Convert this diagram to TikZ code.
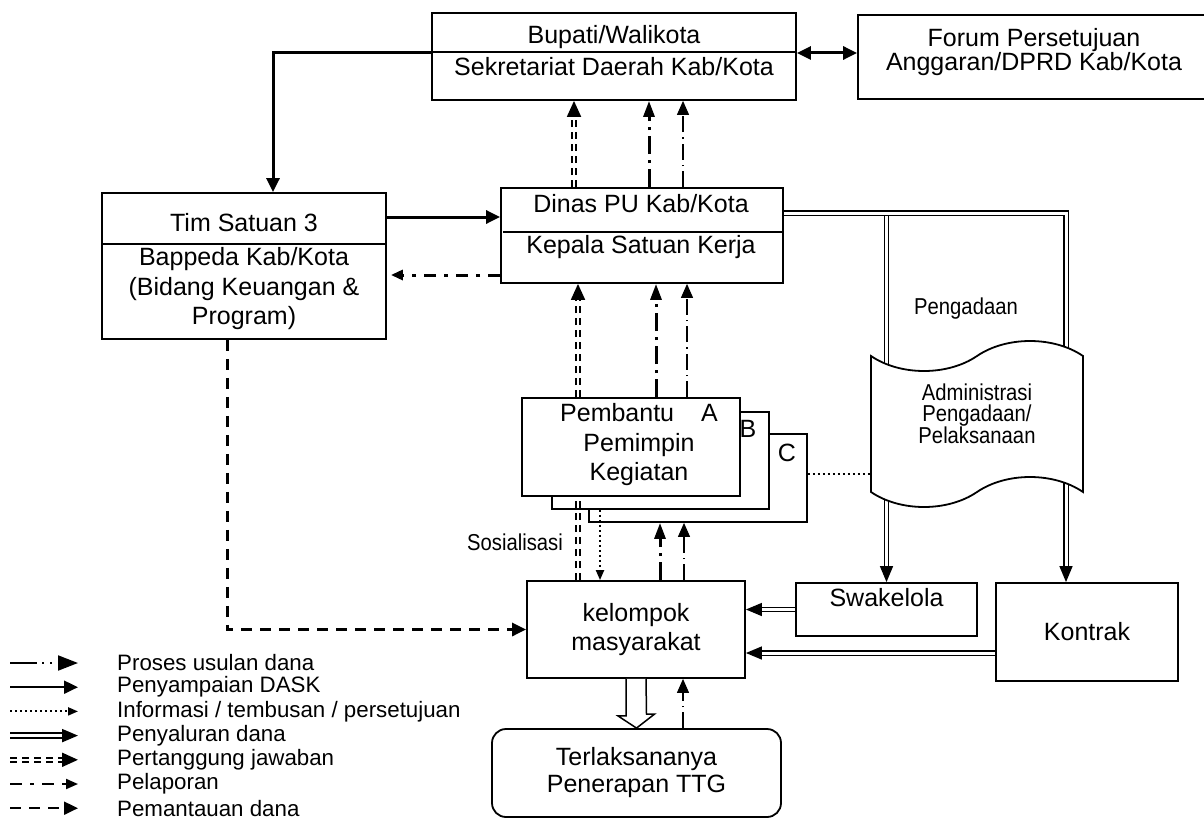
\documentclass[tikz,border=0pt]{standalone}
\usepackage{fontspec}
\setmainfont{Liberation Sans}
\newfontfamily\narrowfont[FakeStretch=0.88]{Liberation Sans}
\usetikzlibrary{calc}
\usetikzlibrary{arrows.meta}
\usetikzlibrary{shapes.symbols}
\usetikzlibrary{backgrounds}

\begin{document}
\begin{tikzpicture}[x=1pt, y=-1pt,
	font=\fontsize{25}{29.5}\selectfont,
	box/.style={draw, line width=1.8pt, fill=white, inner sep=0pt, align=center},
	txt/.style={inner sep=0pt, align=center},
	narrow/.style={inner sep=0pt, align=center, font=\narrowfont\fontsize{23}{21}\selectfont},
	legtext/.style={inner sep=0pt, anchor=west, font=\fontsize{22.3}{24}\selectfont},
	dask/.style={line width=3pt, -{Triangle[length=14pt, width=13pt]}},
	usulan/.style={line width=3pt, dash pattern=on 18pt off 6pt on 3pt off 6pt, -{Triangle[length=16pt, width=11pt]}},
	lapor/.style={line width=3pt, dash pattern=on 12pt off 8pt on 4pt off 8pt, -{Triangle[length=12pt, width=10pt]}},
	laporthin/.style={line width=1.2pt, dash pattern=on 16pt off 5pt on 1.5pt off 5pt, -{Triangle[length=14pt, width=12pt]}},
	info/.style={line width=2pt, dash pattern=on 2pt off 3pt, -{Triangle[length=10pt, width=8pt]}},
	dana/.style={double, double distance=3pt, line width=1.4pt, -{Triangle[length=16pt, width=13pt]}},
	tanggung/.style={double, double distance=2.5pt, line width=1.8pt, dash pattern=on 7pt off 5pt, -{Triangle[length=16pt, width=14pt]}},
	pantau/.style={line width=3pt, dash pattern=on 11pt off 8pt, -{Triangle[length=14pt, width=13pt]}},
	legusulan/.style={usulan, dash pattern=on 27pt off 5pt on 2pt off 6pt on 2pt off 6pt, -{Triangle[length=20pt, width=15pt]}},
	legline/.style={line width=2pt}]
	\useasboundingbox (0,0) rectangle (1204,832);

	% top row
	\node[box, minimum width=364pt, minimum height=87pt] (bupati) at (614,56.5) {};
	\node[txt] (bupatiA) at (614,37) {Bupati/Walikota};
	\node[txt] (bupatiB) at (614,67) {Sekretariat Daerah Kab/Kota};
	\draw[line width=1.2pt] (bupati.west |- 0,52) -- (bupati.east |- 0,52);

	\node[box, minimum width=402pt, minimum height=84pt] (forum) at (1059,57) {};
	\node[txt, font=\fontsize{25}{24}\selectfont] (forumT) at (1034,52) {Forum Persetujuan\\Anggaran/DPRD Kab/Kota};

	% planning and PU office
	\node[box, minimum width=284pt, minimum height=146pt] (tim) at (244,266) {};
	\node[txt] (timA) at (244,223) {Tim Satuan 3};
	\node[txt] (timB) at (244,289) {Bappeda Kab/Kota\\(Bidang Keuangan \&\\Program)};
	\draw[line width=1.2pt] (tim.west |- 0,244) -- (tim.east |- 0,244);

	\node[box, minimum width=282pt, minimum height=95pt] (dinas) at (642,235.5) {};
	\node[txt] (dinasA) at (641,204) {Dinas PU Kab/Kota};
	\node[txt] (dinasB) at (641,247) {Kepala Satuan Kerja};
	\draw[line width=1.2pt] ([xshift=3pt]dinas.west |- 0,232) -- (dinas.east |- 0,232);

	% pembantu pemimpin kegiatan A, B, C
	\node[box, minimum width=218pt, minimum height=88pt] (pembC) at (698,478) {};
	\node[box, minimum width=217pt, minimum height=97pt] (pembB) at (660.5,460.5) {};
	\node[box, minimum width=218pt, minimum height=98pt] (pembA) at (631,447) {};
	\node[txt] (pembAT) at (639,445) {Pembantu\hspace{27pt}A\\Pemimpin\\Kegiatan};
	\node[txt] (pembBT) at (748,429) {B};
	\node[txt] (pembCT) at (787,453) {C};

	\node[box, tape, tape bend top=in and out, tape bend bottom=in and out, tape bend height=30pt,
		minimum width=212pt, minimum height=166pt] (doc) at (977,424) {};
	\node[narrow] (docT) at (977,414) {Administrasi\\Pengadaan/\\Pelaksanaan};
	\node[narrow] (pengadaan) at (966,309) {Pengadaan};

	% bottom row
	\node[box, minimum width=218pt, minimum height=97pt] (kelompok) at (636,629.5) {kelompok\\masyarakat};
	\node[box, minimum width=181pt, minimum height=53pt] (swa) at (886.5,609.5) {};
	\node[txt] (swaT) at (886.5,598) {Swakelola};
	\node[box, minimum width=182pt, minimum height=98pt] (kontrak) at (1087,632) {Kontrak};
	\node[box, rounded corners=14pt, minimum width=289pt, minimum height=88pt, font=\fontsize{25}{27}\selectfont] (terl) at (636.5,773) {Terlaksananya\\Penerapan TTG};
	\node[narrow] (sosialisasi) at (515,542) {Sosialisasi};

	% connectors
	\draw[dask] ([yshift=3.5pt]bupati.west) -| ([xshift=29pt]tim.north);
	\draw[line width=3pt, {Triangle[length=14pt, width=13pt]}-{Triangle[length=14pt, width=13pt]}] (bupati.east |- 0,53) -- (forum.west |- 0,53);
	\draw[dask] (tim.east |- 0,217) -- (dinas.west |- 0,217);
	\draw[lapor] (dinas.west |- 0,275) -- ([xshift=4pt]tim.east |- 0,275);

	\draw[tanggung] (574,0 |- dinas.north) -- (574,0 |- bupati.south);
	\draw[usulan] (649,0 |- dinas.north) -- (649,0 |- bupati.south);
	\draw[laporthin] (683,0 |- dinas.north) -- (683,0 |- bupati.south);

	\draw[tanggung] (578,0 |- pembA.north) -- (578,0 |- dinas.south);
	\draw[usulan] (656,0 |- pembA.north) -- (656,0 |- dinas.south);
	\draw[laporthin] (687,0 |- pembA.north) -- (687,0 |- dinas.south);

	\draw[tanggung, -] (578,0 |- kelompok.north) -- (578,0 |- pembA.south);
	\draw[info] (600,0 |- pembB.south) -- (600,0 |- kelompok.north);
	\draw[usulan] (660,0 |- kelompok.north) -- (660,0 |- pembC.south);
	\draw[laporthin] (684,0 |- kelompok.north) -- (684,0 |- pembC.south);
	\draw[info, -] (pembC.east |- 0,474) -- (doc.west |- 0,474);

	\draw[pantau] ([xshift=-17pt]tim.south) |- (kelompok.west);

	\draw[dana] (swa.west) -- (kelompok.east |- swa.west);
	\draw[dana] (kontrak.west |- 0,653) -- (kelompok.east |- 0,653);
	\draw[laporthin] (683,0 |- terl.north) -- (683,0 |- kelompok.south);
	\draw[line width=1.5pt, fill=white] ([xshift=-10pt]kelompok.south) -- ++(0,37) -- ++(-8,0) -- (terl.north)
		-- ++(18,-14) -- ++(-8,0) -- ([xshift=10pt]kelompok.south);

	\begin{pgfonlayer}{background}
		\draw[dana] (swa.north |- 0,213) -- (swa.north);
		\draw[dana] (dinas.east |- 0,213) -| (1066,0 |- kontrak.north);
	\end{pgfonlayer}

	% legend
	\foreach \st/\txt [count=\i] in {legusulan/Proses usulan dana, dask/Penyampaian DASK,
		info/{Informasi / tembusan / persetujuan}, dana/Penyaluran dana,
		tanggung/Pertanggung jawaban, lapor/Pelaporan, pantau/Pemantauan dana}
	{
		\node[legtext] (leg\i) at (117,{663+24.2*(\i-1)}) {\txt};
		\draw[\st, legline] ($(leg\i.west)+(-107,0)$) -- ($(leg\i.west)+(-39,0)$);
	}
\end{tikzpicture}
\end{document}
